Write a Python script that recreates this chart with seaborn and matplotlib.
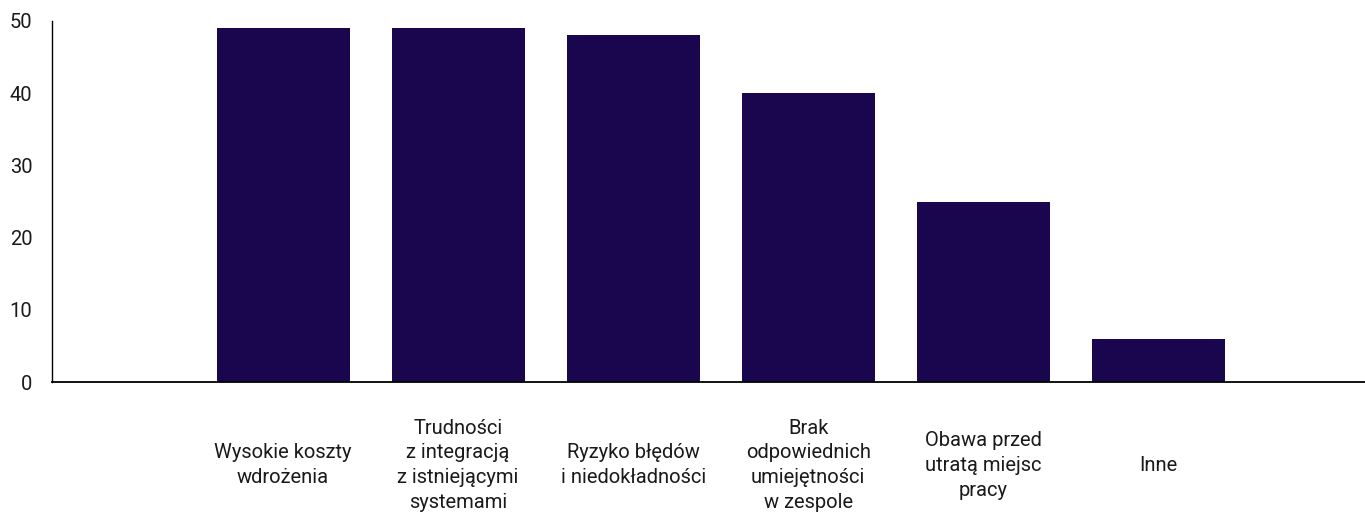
import matplotlib
matplotlib.use("Agg")
import matplotlib.pyplot as plt
import seaborn as sns
import pandas as pd

# Chart data
categories = [
    "Wysokie koszty\nwdrożenia",
    "Trudności\nz integracją\nz istniejącymi\nsystemami",
    "Ryzyko błędów\ni niedokładności",
    "Brak\nodpowiednich\numiejętności\nw zespole",
    "Obawa przed\nutratą miejsc\npracy",
    "Inne",
]
values = [49, 49, 48, 40, 25, 6]
y_ticks = [0, 10, 20, 30, 40, 50]

bar_color = "#19064f"
text_color = "#1a1a1a"

df = pd.DataFrame({"category": categories, "value": values})

sns.set_style("white")
plt.rcParams["font.family"] = ["Roboto", "DejaVu Sans"]

fig = plt.figure(figsize=(13.65, 5.13), dpi=100)
ax = fig.add_axes([52 / 1365, 1 - 382 / 513, 1 - 52 / 1365, (382 - 21) / 513])

sns.barplot(data=df, x="category", y="value", color=bar_color,
            width=0.76, saturation=1, linewidth=0, ax=ax)

ax.set_xlim(-1.32, 6.18)
ax.set_ylim(0, 50)
ax.set_yticks(y_ticks)
ax.set_xlabel("")
ax.set_ylabel("")

for side in ["top", "right"]:
    ax.spines[side].set_visible(False)
ax.spines["left"].set_color("black")
ax.spines["left"].set_linewidth(1.0)
ax.spines["bottom"].set_color("black")
ax.spines["bottom"].set_linewidth(1.3)

ax.tick_params(axis="y", direction="in", length=25, width=1.0, color="black",
               pad=14, labelsize=14.5, labelcolor=text_color)
ax.tick_params(axis="x", length=0, pad=60, labelsize=14.5, labelcolor=text_color)
for lab in ax.get_xticklabels():
    lab.set_verticalalignment("center")
    lab.set_linespacing(1.38)

fig.savefig("out.png", dpi=100)
